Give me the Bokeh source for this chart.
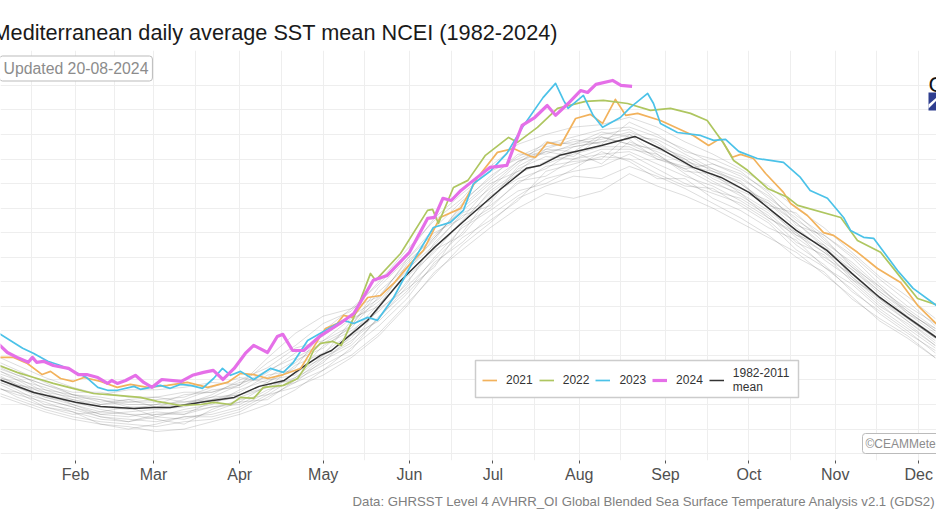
from bokeh.embed import file_html
from bokeh.resources import INLINE
from bokeh.plotting import figure
from bokeh.models import (Label, Legend, LegendItem, FixedTicker, Range1d, BoxAnnotation, PolyAnnotation, Title)

TITLE = "Mediterranean daily average SST mean NCEI (1982-2024)"
UPDATED = "Updated 20-08-2024"
SOURCE = "Data: GHRSST Level 4 AVHRR_OI Global Blended Sea Surface Temperature Analysis v2.1 (GDS2)"
CREDIT = "©CEAMMeteo"

month_days = [31, 59, 90, 120, 151, 181, 212, 243, 273, 304, 334]
month_names = ["Feb", "Mar", "Apr", "May", "Jun", "Jul", "Aug", "Sep", "Oct", "Nov", "Dec"]
mid_month_days = [15, 45, 74, 105, 135, 166, 196, 227, 258, 288, 319]
degree_lines = [13, 14, 15, 16, 17, 18, 19, 20, 21, 22, 23, 24, 25, 26, 27, 28]

mean_d = [2, 16, 31, 40, 52, 59, 65, 76, 88, 97, 106, 112, 119, 123, 136, 148, 160, 172, 184, 193, 198, 205, 220, 232, 241, 253, 263, 273, 281, 290, 301, 310, 320, 330, 342]
mean_t = [16.08, 15.49, 15.09, 14.92, 14.84, 14.88, 14.88, 15.09, 15.29, 15.74, 15.98, 16.47, 17.0, 17.2, 18.43, 20.06, 21.4, 22.62, 23.8, 24.62, 24.74, 25.15, 25.55, 25.92, 25.43, 24.66, 24.25, 23.64, 22.91, 22.09, 21.28, 20.34, 19.36, 18.55, 17.6]

d2024 = [2, 6.5, 10, 14, 15.5, 17, 19.5, 23, 28.5, 32, 35, 39, 42.5, 44, 46, 49, 52.5, 55.5, 58.5, 62, 69, 73, 77, 80.5, 84, 88, 92, 95, 100, 103.5, 105.5, 109, 113, 119, 126, 131, 138, 143, 151, 157.5, 160, 163, 166, 169.5, 174, 180, 186, 189, 191.5, 196, 200.5, 203.5, 208, 212.5, 215, 218, 224, 227, 231]
t2024 = [17.6, 17.12, 16.92, 16.72, 16.92, 16.72, 16.76, 16.59, 16.47, 16.22, 16.22, 16.10, 15.86, 15.98, 15.86, 15.98, 16.19, 15.90, 15.70, 16.02, 15.94, 16.19, 16.31, 16.39, 16.02, 16.47, 17.08, 17.41, 17.12, 17.77, 17.86, 17.2, 17.2, 17.8, 18.30, 18.71, 20.06, 20.26, 21.2, 22.58, 22.62, 23.4, 23.31, 23.72, 24.13, 24.66, 24.74, 25.64, 26.37, 26.69, 27.18, 26.78, 27.26, 27.79, 27.71, 28.04, 28.2, 28.0, 27.96]

d2023 = [2, 8.7, 12, 16, 21, 25.6, 31.7, 35, 39, 42.5, 46, 52, 54.3, 58, 61.5, 65, 68.7, 72.3, 76.6, 80.6, 83.8, 86.7, 90.3, 95, 101, 105.7, 109.3, 114.4, 119, 127.3, 131, 136, 139.5, 145.3, 152.5, 159.6, 165.7, 170.4, 174, 180, 186, 191.6, 199, 203.5, 206.4, 208, 213.5, 217, 220.4, 226.8, 230.4, 236.6, 238.7, 241.2, 247.3, 255.6, 260.3, 264.6, 269.3, 276, 285.4, 291.5, 295, 301.2, 307, 309.5, 314.2, 317.8, 326.4, 332, 342]
t2023 = [18.0, 17.53, 17.29, 17.08, 16.76, 16.59, 16.27, 16.10, 15.70, 15.58, 15.58, 15.74, 15.62, 15.70, 15.78, 15.66, 15.82, 15.78, 15.66, 16.06, 16.47, 16.19, 16.35, 16.02, 16.47, 16.31, 16.72, 17.61, 17.9, 18.43, 18.3, 18.55, 18.43, 19.36, 20.87, 22.21, 22.42, 22.91, 24.0, 24.5, 25.23, 26.29, 27.5, 28.08, 27.39, 27.06, 27.59, 26.78, 26.29, 26.69, 27.1, 27.67, 27.26, 26.45, 26.08, 25.96, 25.76, 25.8, 25.31, 25.02, 24.86, 24.25, 23.72, 23.4, 22.62, 22.09, 21.81, 21.77, 20.46, 19.73, 18.9]

d2022 = [2, 10, 16, 23, 30, 37.4, 46, 54.3, 60.4, 68.7, 76, 80.6, 86.7, 90.3, 95, 98.5, 105.7, 110.8, 114.4, 116.5, 119, 123.5, 126.5, 131, 137, 138.8, 147.8, 157.5, 159.3, 161.4, 166.8, 172, 178.3, 186.6, 189.8, 197, 204.2, 214.3, 220.7, 229.4, 237.6, 244.8, 252, 258, 263.9, 267.5, 272.5, 279.7, 286.9, 290.5, 306, 312, 320.3, 327.5, 333.6, 342]
t2022 = [16.65, 16.31, 16.10, 15.86, 15.66, 15.45, 15.37, 15.29, 15.13, 14.96, 15.0, 15.09, 15.0, 15.29, 15.25, 15.70, 15.78, 16.06, 16.67, 17.2, 17.49, 17.57, 17.41, 18.55, 20.34, 20.06, 21.15, 22.91, 22.95, 22.38, 23.84, 24.13, 25.15, 25.88, 25.68, 26.29, 27.06, 27.35, 27.39, 27.26, 26.98, 27.06, 26.86, 26.57, 25.64, 24.94, 24.54, 23.8, 23.44, 23.11, 22.62, 21.68, 21.2, 20.18, 19.32, 19.0]

d2021 = [2, 8.7, 13.7, 19, 22, 25.6, 30, 34, 40, 46, 50.7, 56.9, 64, 71.2, 78.4, 85.6, 90.3, 95, 100, 105.7, 111.9, 116.5, 120.8, 125, 127.3, 130.5, 136, 140.6, 145.3, 151.4, 156, 162, 169.4, 175.5, 182.6, 188.4, 194.5, 196.3, 200.6, 205.3, 210.7, 216, 220.4, 225, 228.7, 233, 241.2, 247.3, 253, 258.5, 262.8, 267, 270, 274.6, 279, 285.4, 288, 294, 299.8, 303.4, 312, 319.2, 327.5, 333.6, 342]
t2021 = [16.92, 16.92, 16.67, 16.22, 16.35, 16.06, 15.94, 16.1, 15.94, 15.7, 15.82, 15.7, 15.78, 15.9, 15.7, 15.9, 16.27, 16.22, 16.06, 16.22, 16.47, 17.33, 18.1, 18.3, 18.63, 18.55, 19.36, 19.44, 19.93, 20.75, 21.28, 22.62, 22.99, 24.25, 25.27, 25.43, 25.11, 25.07, 25.68, 25.55, 26.65, 26.82, 26.45, 27.43, 26.78, 26.86, 26.57, 26.25, 25.96, 25.55, 25.84, 25.07, 25.19, 25.02, 24.41, 23.64, 23.19, 22.70, 22.0, 21.89, 21.2, 20.54, 19.97, 19.04, 18.1]

past_days = [0, 10, 20, 30, 40, 50, 60, 70, 80, 90, 100, 110, 120, 130, 140, 150, 160, 170, 180, 190, 200, 210, 220, 230, 240, 250, 260, 270, 280, 290, 300, 310, 320, 330, 340]
past_a = [15.6,15.2,14.8,14.5,14.3,14.2,14.1,14.3,14.4,14.7,15.3,15.9,16.4,17.3,18.2,19.3,20.8,21.6,22.7,23.5,24.2,24.5,24.7,25.2,24.6,24.0,23.6,23.2,22.5,21.5,20.7,19.6,18.8,18.0,17.1]
past_b = [16.0,15.7,15.2,14.9,14.6,14.5,14.7,14.6,14.9,15.0,15.6,15.9,16.8,17.4,18.5,20.0,21.3,21.9,23.2,24.6,25.1,25.0,25.4,25.4,25.2,24.4,23.7,23.4,22.7,21.6,21.1,20.0,19.0,18.3,17.4]
past_c = [16.7,16.2,15.8,15.5,15.5,15.3,15.3,15.5,15.5,15.9,16.1,16.8,17.3,18.2,19.6,20.6,21.7,23.2,24.3,25.1,25.6,25.9,26.2,26.3,25.9,25.4,24.8,24.3,23.4,22.6,21.6,20.8,19.8,18.8,18.0]
past_d = [16.3,15.8,15.5,15.0,14.7,14.9,14.5,14.8,15.0,15.6,16.0,16.2,17.4,18.0,18.8,19.9,21.6,22.7,23.1,24.0,24.7,24.9,25.0,26.0,25.2,24.5,24.4,23.6,22.6,21.9,21.5,20.2,19.2,18.4,17.6]
past_e = [16.5,16.1,15.5,15.3,15.2,14.9,14.9,15.2,15.6,15.7,16.3,17.1,17.8,18.6,19.3,20.9,22.0,22.6,23.9,24.9,25.4,25.3,26.0,26.2,25.6,25.0,24.3,23.8,23.3,22.4,21.4,20.5,19.6,18.7,17.9]
past_f = [15.8,15.4,15.1,14.7,14.4,14.3,14.5,14.4,14.7,15.1,15.2,16.0,16.6,17.2,18.6,19.6,21.0,22.2,22.9,23.7,24.0,24.6,25.3,24.9,24.2,24.2,23.4,22.9,22.2,21.7,20.6,19.9,18.9,18.1,17.3]
past_g = [16.9,16.4,15.9,15.4,15.1,15.2,14.9,15.0,15.3,15.4,15.9,16.5,18.0,18.9,19.4,20.4,21.8,23.0,24.0,24.5,25.4,25.8,25.6,26.5,26.0,25.3,25.0,24.5,23.6,22.3,21.9,21.0,19.9,19.0,18.3]
past_h = [16.1,15.6,15.0,14.8,14.5,14.4,14.3,14.5,14.6,14.9,15.5,16.3,16.9,17.6,18.5,19.8,20.9,22.0,23.5,24.2,24.6,25.3,24.8,25.7,25.3,24.8,24.1,23.5,22.8,21.8,21.0,20.3,19.3,18.4,17.5]
past_i = [15.9,15.3,14.9,14.6,14.7,14.6,14.4,14.2,14.8,15.2,15.4,15.7,16.2,16.9,17.8,19.0,20.4,21.3,22.2,23.0,23.6,23.4,23.7,24.4,23.9,23.5,23.0,22.4,21.8,21.2,20.3,19.4,18.4,17.7,16.9]
past_j = [16.6,16.0,15.7,15.3,15.0,15.1,15.1,15.0,15.4,16.0,16.5,17.3,17.6,18.2,19.8,20.9,22.2,23.3,24.2,25.2,25.2,25.6,25.8,26.1,25.7,24.9,24.6,24.0,23.1,22.8,21.7,20.7,19.7,18.9,18.1]
past_k = [16.2,15.9,15.3,15.1,14.8,14.6,14.6,14.6,15.1,15.3,15.7,16.6,17.1,17.9,19.1,20.2,21.2,22.5,23.6,24.4,24.9,25.5,25.7,25.8,25.0,24.7,24.5,24.1,23.0,21.9,21.2,20.5,19.5,18.6,17.8]
past_l = [17.1,16.6,16.1,15.7,15.4,15.6,15.6,15.7,15.9,15.8,16.7,17.4,18.3,18.8,20.0,21.3,22.5,23.4,24.7,25.6,26.0,26.3,26.4,26.7,26.3,25.7,25.2,24.6,23.9,23.0,22.2,21.2,20.2,19.4,18.5]
past_m = [15.7,15.5,14.9,14.7,14.2,14.0,14.2,14.5,14.5,14.8,15.4,16.1,16.7,17.8,18.4,19.5,20.7,21.8,22.5,23.3,24.5,24.8,25.1,25.0,24.4,23.9,23.8,23.1,22.4,21.3,20.6,19.7,18.7,17.9,17.2]
past_n = [16.4,15.8,15.6,15.2,14.9,14.8,15.0,15.1,15.2,15.5,16.2,16.4,17.0,18.4,19.2,20.5,21.5,22.8,23.3,24.7,25.3,25.1,25.9,25.6,25.4,25.0,24.2,23.7,23.2,22.2,21.3,20.1,19.4,18.5,17.7]
past_o = [16.8,16.3,15.6,15.4,15.3,15.1,15.2,15.3,15.7,16.1,15.9,16.7,17.6,18.5,19.0,20.7,21.9,22.9,23.8,24.8,25.7,25.6,26.1,25.9,25.8,25.2,24.6,24.2,23.5,22.5,21.8,20.6,19.8,18.7,18.1]
past_p = [16.0,15.5,15.2,14.9,14.5,14.3,14.6,14.7,14.9,15.1,15.8,16.0,16.9,17.5,18.9,19.7,20.6,22.3,23.0,24.1,24.3,25.0,25.2,25.3,24.8,24.3,23.9,23.3,22.6,22.0,20.9,20.1,19.1,18.2,17.4]
past_q = [16.4,16.0,15.4,15.2,15.0,15.2,15.3,15.1,15.3,15.8,16.9,17.9,18.6,18.9,19.9,21.1,22.6,23.6,24.5,25.0,25.5,25.7,25.9,25.6,25.1,24.6,24.8,24.4,23.7,22.7,21.9,21.1,20.1,19.2,18.2]
past_r = [15.5,15.1,14.7,14.4,14.2,14.1,13.9,14.0,14.3,14.6,15.0,15.6,16.4,17.0,17.9,19.1,20.3,21.5,22.4,23.4,23.9,24.3,24.2,24.7,24.3,23.8,23.2,22.6,21.9,21.0,20.4,19.3,18.5,17.8,16.9]
past_s = [16.2,15.7,15.3,15.0,14.6,14.7,14.8,14.9,15.2,15.4,15.7,16.1,17.0,17.7,19.0,20.3,21.4,22.4,23.7,24.5,24.8,25.2,25.5,25.5,25.0,24.6,24.0,23.6,22.9,22.0,21.2,20.2,19.3,18.5,17.7]
past_t = [16.6,16.2,15.8,15.4,15.2,15.0,15.0,15.4,15.5,15.8,16.4,16.9,17.5,18.1,19.4,20.8,21.8,23.1,24.1,24.9,25.3,25.5,25.7,26.0,25.5,25.1,24.5,24.0,23.2,22.4,21.5,20.6,19.6,18.8,18.0]
past_years = [past_a, past_b, past_c, past_d, past_e, past_f, past_g, past_h, past_i, past_j,
              past_k, past_l, past_m, past_n, past_o, past_p, past_q, past_r, past_s, past_t]

W, H = 936, 526
p = figure(width=W, height=H, output_backend="svg", toolbar_location=None,
           x_range=Range1d(4.026, 340.4), y_range=Range1d(12.72, 29.42),
           min_border_left=0, min_border_right=0, min_border_top=50, min_border_bottom=66,
           background_fill_color="white", border_fill_color="white")
p.title = Title(text=TITLE, align="left", offset=-8, standoff=12, text_font="Liberation Sans",
                text_font_size="21.7px", text_font_style="normal", text_color="#1a1a1a")
p.add_layout(Title(text=SOURCE, align="right", offset=0, standoff=12, text_font="Liberation Sans",
                   text_font_size="13.2px", text_font_style="normal", text_color="#808080"), "below")
p.outline_line_color = None
p.yaxis.visible = False

p.xaxis.ticker = FixedTicker(ticks=month_days)
p.xaxis.major_label_overrides = dict(zip(month_days, month_names))
p.xaxis.axis_line_color = None
p.xaxis.major_tick_line_color = "#555555"
p.xaxis.major_tick_out = 3
p.xaxis.major_tick_in = 0
p.xaxis.minor_tick_line_color = None
p.xaxis.major_label_text_font = "Liberation Sans"
p.xaxis.major_label_text_font_size = "16px"
p.xaxis.major_label_text_color = "#505050"
p.xaxis.major_label_standoff = 2

p.xgrid[0].ticker = FixedTicker(ticks=month_days + mid_month_days)
p.ygrid[0].ticker = FixedTicker(ticks=degree_lines)
p.xgrid[0].grid_line_color = "#eeeeee"
p.ygrid[0].grid_line_color = "#eeeeee"

for series in past_years:
    p.line(past_days, series, line_color="#555555", line_alpha=0.2, line_width=1, line_join="round")

r_mean = p.line(mean_d, mean_t, line_color="#333333", line_width=1.5, line_join="round")
r21 = p.line(d2021, t2021, line_color="#F2B25C", line_width=1.7, line_join="round")
r22 = p.line(d2022, t2022, line_color="#AEC660", line_width=1.7, line_join="round")
r23 = p.line(d2023, t2023, line_color="#4BC2E8", line_width=1.7, line_join="round")
r24 = p.line(d2024, t2024, line_color="#E56FE8", line_width=3.2, line_join="round")

def screen_box(left, right, top_py, bottom_py, **kw):
    p.add_layout(BoxAnnotation(left=left, right=right, top=460 - top_py, bottom=460 - bottom_py,
                               left_units="screen", right_units="screen",
                               top_units="screen", bottom_units="screen", **kw))

screen_box(475, 798, 360, 397, fill_color="white", fill_alpha=1, line_color="#cccccc", line_width=1.5, line_alpha=1)

legend = Legend(items=[LegendItem(label="2021", renderers=[r21]),
                       LegendItem(label="2022", renderers=[r22]),
                       LegendItem(label="2023", renderers=[r23]),
                       LegendItem(label="2024", renderers=[r24]),
                       LegendItem(label="1982-2011\nmean", renderers=[r_mean])],
                orientation="horizontal", location=(482, 66), margin=0,
                padding=4, spacing=6, glyph_width=15, glyph_height=14, label_standoff=9,
                label_text_font="Liberation Sans", label_text_font_size="12px", label_text_color="#333333",
                border_line_color=None, background_fill_alpha=0)
p.add_layout(legend, "center")

def screen_label(text, px, py, size, color, align="left", baseline="middle", **kw):
    p.add_layout(Label(x=px, y=460 - py, x_units="screen", y_units="screen", text=text,
                       text_font="Liberation Sans", text_font_size=size, text_color=color,
                       text_align=align, text_baseline=baseline, **kw))

screen_label(UPDATED, -1, 68, "15.8px", "#8c8c8c", border_line_color="#bbbbbb", border_line_width=1,
             background_fill_color="white", padding=4, border_radius=3)
screen_label(CREDIT, 862, 443, "12px", "#8c8c8c", border_line_color="#bbbbbb", border_line_width=1,
             background_fill_color="white", padding=3, border_radius=3)
screen_label("C", 928, 84, "22px", "#111111", baseline="alphabetic")
screen_label("Jan", 3, 474, "16px", "#505050", align="right", level="overlay")

screen_box(928, 936, 92, 110, fill_color="#2F3E8F", fill_alpha=1, line_color=None)
p.add_layout(PolyAnnotation(xs=[928, 936, 936, 928], ys=[460 - 104, 460 - 97, 460 - 100, 460 - 108],
                            xs_units="screen", ys_units="screen", fill_color="white", fill_alpha=1, line_color=None))

open("out.html", "w").write(file_html(p, INLINE))
